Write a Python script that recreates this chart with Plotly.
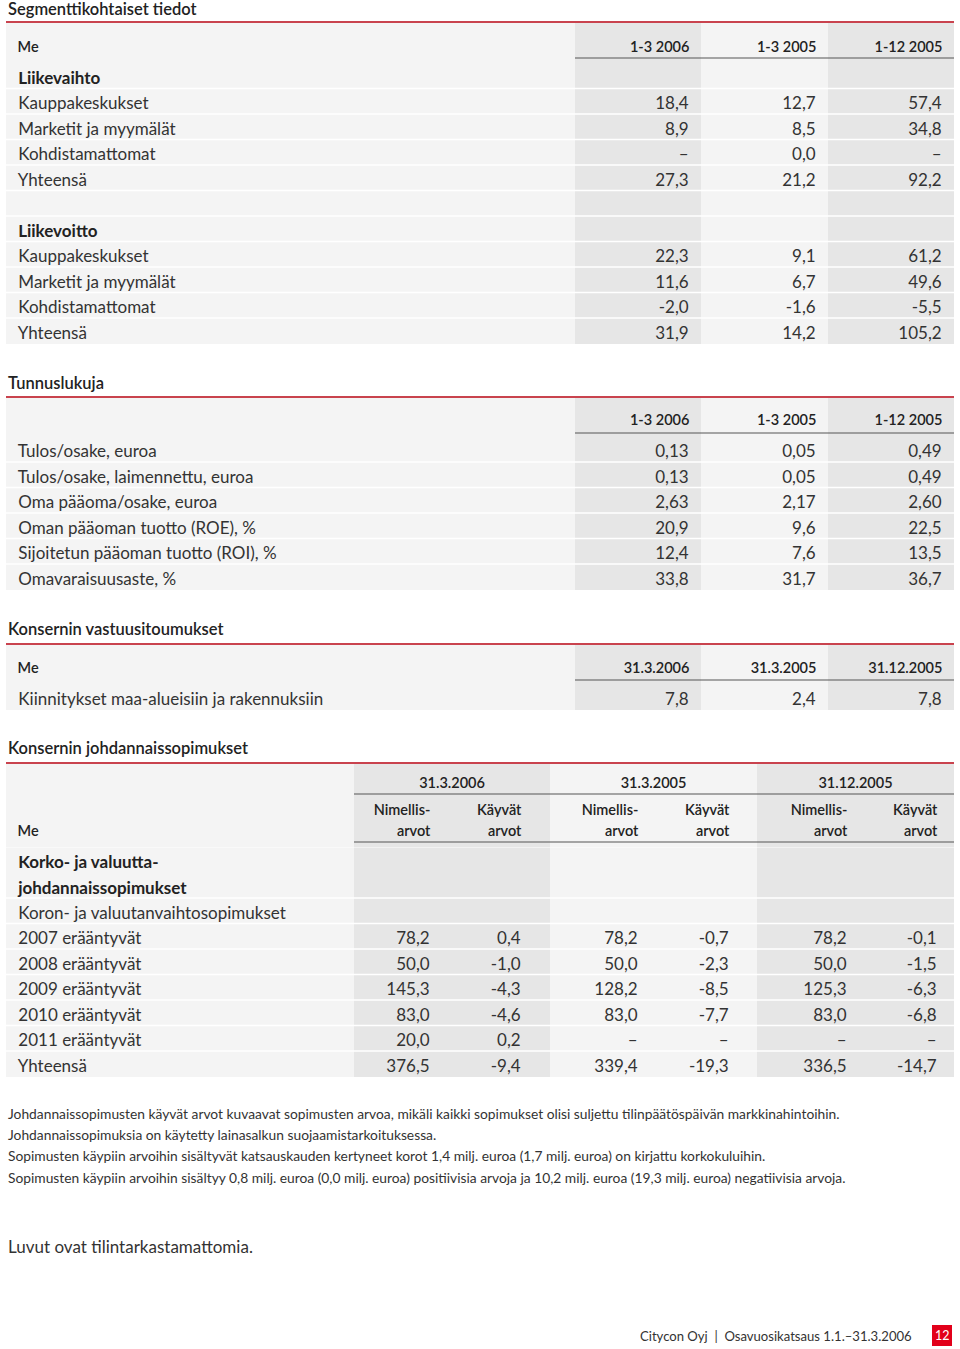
import plotly.graph_objects as go

# ---------------------------------------------------------------- data
seg_periods = ["1-3 2006", "1-3 2005", "1-12 2005"]
seg_groups = ["Liikevaihto", "Liikevoitto"]
seg_labels = [["Kauppakeskukset", "Marketit ja myymälät", "Kohdistamattomat", "Yhteensä", ""],
              ["Kauppakeskukset", "Marketit ja myymälät", "Kohdistamattomat", "Yhteensä"]]
seg_q1_2006 = [[18.4, 8.9, "-", 27.3, None], [22.3, 11.6, -2.0, 31.9]]
seg_q1_2005 = [[12.7, 8.5, 0.0, 21.2, None], [9.1, 6.7, -1.6, 14.2]]
seg_fy_2005 = [[57.4, 34.8, "-", 92.2, None], [61.2, 49.6, -5.5, 105.2]]

kf_labels = ["Tulos/osake, euroa", "Tulos/osake, laimennettu, euroa", "Oma pääoma/osake, euroa",
             "Oman pääoman tuotto (ROE), %", "Sijoitetun pääoman tuotto (ROI), %",
             "Omavaraisuusaste, %"]
kf_decimals = [2, 2, 2, 1, 1, 1]
kf_q1_2006 = [0.13, 0.13, 2.63, 20.9, 12.4, 33.8]
kf_q1_2005 = [0.05, 0.05, 2.17, 9.6, 7.6, 31.7]
kf_fy_2005 = [0.49, 0.49, 2.60, 22.5, 13.5, 36.7]

com_dates = ["31.3.2006", "31.3.2005", "31.12.2005"]
com_labels = ["Kiinnitykset maa-alueisiin ja rakennuksiin"]
com_values = [[7.8], [2.4], [7.8]]

der_dates = ["31.3.2006", "31.3.2005", "31.12.2005"]
der_subheads = [["Nimellis-", "arvot"], ["Käyvät", "arvot"]]
der_group = ["Korko- ja valuutta-", "johdannaissopimukset"]
der_labels = ["Koron- ja valuutanvaihtosopimukset", "2007 erääntyvät", "2008 erääntyvät",
              "2009 erääntyvät", "2010 erääntyvät", "2011 erääntyvät", "Yhteensä"]
der_nom_2006 = [None, 78.2, 50.0, 145.3, 83.0, 20.0, 376.5]
der_fair_2006 = [None, 0.4, -1.0, -4.3, -4.6, 0.2, -9.4]
der_nom_2005 = [None, 78.2, 50.0, 128.2, 83.0, "-", 339.4]
der_fair_2005 = [None, -0.7, -2.3, -8.5, -7.7, "-", -19.3]
der_nom_fy05 = [None, 78.2, 50.0, 125.3, 83.0, "-", 336.5]
der_fair_fy05 = [None, -0.1, -1.5, -6.3, -6.8, "-", -14.7]

notes = [
    "Johdannaissopimusten käyvät arvot kuvaavat sopimusten arvoa, mikäli kaikki sopimukset olisi suljettu tilinpäätöspäivän markkinahintoihin.",
    "Johdannaissopimuksia on käytetty lainasalkun suojaamistarkoituksessa.",
    "Sopimusten käypiin arvoihin sisältyvät katsauskauden kertyneet korot 1,4 milj. euroa (1,7 milj. euroa) on kirjattu korkokuluihin.",
    "Sopimusten käypiin arvoihin sisältyy 0,8 milj. euroa (0,0 milj. euroa) positiivisia arvoja ja 10,2 milj. euroa (19,3 milj. euroa) negatiivisia arvoja.",
]

# ---------------------------------------------------------------- style
W, H = 960, 1349
X0, X1 = 6, 954
FONT = "Lato"
TXT = "#333333"
HEAD = "#222222"
LIGHT = "#f4f4f4"
DARK = "#e6e6e6"
RED = "#c9434e"
RULE = "#555555"
NB = "\u00a0"
ROW = 25.5


def nb(s):
    return s.replace(" ", NB)


def fmt(v, dec=1):
    if v is None:
        return ""
    if isinstance(v, str):
        return "\u2013"
    return f"{v:.{dec}f}".replace(".", ",")


def px(x):
    return x / W


def py(y):
    return 1 - y / H


fig = go.Figure()
shapes = []
annotations = []


def hline(y, x0, x1, color, width):
    shapes.append(dict(type="line", xref="paper", yref="paper", x0=px(x0), x1=px(x1),
                       y0=py(y), y1=py(y), line=dict(color=color, width=width)))


def section(title, y_text, y_line):
    annotations.append(dict(text=title, x=px(X0), y=py(y_text), xref="paper", yref="paper",
                            xanchor="left", yanchor="middle", showarrow=False,
                            font=dict(family=FONT, size=16.5, color=HEAD, weight=600)))
    hline(y_line, X0, X1, RED, 2)


def table(top, header, header_h, columns, edges, fills, aligns, pad=0, head_align=None,
          head_font=None, sep_top=False, sep_head=True):
    """One go.Table trace; returns its bottom edge in page pixels."""
    widths = [b - a for a, b in zip(edges[:-1], edges[1:])]
    n_head = len(header[0]) if isinstance(header[0], list) else 1
    n_rows = len(columns[0])
    t = top + pad
    bottom = t + n_head * header_h + n_rows * ROW
    prefix = [NB if a == "left" else "" for a in aligns]
    suffix = [NB if a == "right" else "" for a in aligns]
    hf = head_font or dict(family=FONT, size=14.5, color=HEAD, weight=600)
    fig.add_trace(go.Table(
        domain=dict(x=[px(edges[0]), px(edges[-1])], y=[py(bottom + 1), py(t)]),
        columnwidth=widths,
        header=dict(values=header, fill_color=fills, line_width=0,
                    align=head_align or aligns, height=header_h, prefix=prefix,
                    suffix=suffix, font=hf),
        cells=dict(values=columns, fill_color=fills, line_width=0, align=aligns,
                   height=ROW, prefix=prefix, suffix=suffix,
                   font=dict(family=FONT, size=17, color=TXT)),
    ))
    if pad > 0:
        for a, b, f in zip(edges[:-1], edges[1:], fills):
            shapes.append(dict(type="rect", xref="paper", yref="paper", x0=px(a), x1=px(b),
                               y0=py(t), y1=py(top), fillcolor=f, line_width=0,
                               layer="below"))
    # white separators between rows
    seps = [t] if sep_top else []
    if n_rows and sep_head:
        seps.append(t + n_head * header_h)
    seps += [t + n_head * header_h + k * ROW for k in range(1, n_rows)]
    for y in seps:
        hline(y, edges[0], edges[-1], "white", 1.5)
    return bottom


three_edges = [X0, 575, 701, 828, X1]
three_fills = [LIGHT, DARK, LIGHT, DARK]
three_align = ["left", "right", "right", "right"]
group_font = dict(family=FONT, size=17, color=HEAD, weight=[700, 400, 400, 400])

# Segmenttikohtaiset tiedot
section("Segmenttikohtaiset tiedot", 9, 22)
y = table(23, ["Me"] + [nb(p) for p in seg_periods], 30, [[], [], [], []],
          three_edges, three_fills, three_align, pad=10)
hline(58, 575, X1, RULE, 1.2)
for i, g in enumerate(seg_groups):
    y = table(y, [nb(g), "", "", ""], ROW,
              [[nb(s) for s in seg_labels[i]], [fmt(v) for v in seg_q1_2006[i]],
               [fmt(v) for v in seg_q1_2005[i]], [fmt(v) for v in seg_fy_2005[i]]],
              three_edges, three_fills, three_align, head_font=group_font, sep_top=i > 0)

# Tunnuslukuja
section("Tunnuslukuja", 383, 397)
table(398, [""] + [nb(p) for p in seg_periods], 30.5,
      [[nb(s) for s in kf_labels],
       [fmt(v, d) for v, d in zip(kf_q1_2006, kf_decimals)],
       [fmt(v, d) for v, d in zip(kf_q1_2005, kf_decimals)],
       [fmt(v, d) for v, d in zip(kf_fy_2005, kf_decimals)]],
      three_edges, three_fills, three_align, pad=8, sep_head=False)
hline(433, 575, X1, RULE, 1.2)

# Konsernin vastuusitoumukset
section("Konsernin vastuusitoumukset", 629, 644)
table(645, ["Me"] + com_dates, 30.5,
      [[nb(s) for s in com_labels]] + [[fmt(v) for v in col] for col in com_values],
      three_edges, three_fills, three_align, pad=9, sep_head=False)
hline(680, 575, X1, RULE, 1.2)

# Konsernin johdannaissopimukset
section("Konsernin johdannaissopimukset", 748, 763)
pair_edges = [X0, 354, 550, 757, X1]
pair_fills = [LIGHT, DARK, LIGHT, DARK]
y = table(764, [""] + der_dates, 25, [[], [], [], []], pair_edges, pair_fills,
          ["left", "center", "center", "center"], pad=5)
hline(794, 354, X1, RULE, 1.2)

der_edges = [X0, 354, 442, 533, 550, 650, 741, 757, 859, 949, X1]
der_fills = [LIGHT, DARK, DARK, DARK, LIGHT, LIGHT, LIGHT, DARK, DARK, DARK]
der_align = ["left"] + ["right"] * 9
nom, fair = der_subheads
y = table(y, [["", "Me"], nom, fair, ["", ""], nom, fair, ["", ""], nom, fair, ["", ""]],
          21, [[]] * 10, der_edges, der_fills, der_align, pad=2)

blank = [""] * len(der_labels)
table(y, [[nb(s) for s in der_group]] + [["", ""]] * 9, 25.25,
      [[nb(s) for s in der_labels],
       [fmt(v) for v in der_nom_2006], [fmt(v) for v in der_fair_2006], blank,
       [fmt(v) for v in der_nom_2005], [fmt(v) for v in der_fair_2005], blank,
       [fmt(v) for v in der_nom_fy05], [fmt(v) for v in der_fair_fy05], blank],
      der_edges, der_fills, der_align, pad=9.5,
      head_font=dict(family=FONT, size=17, color=HEAD, weight=[700] + [400] * 9))
hline(842, 354, X1, RULE, 1.2)

# notes
for i, line in enumerate(notes):
    annotations.append(dict(text=line, x=px(X0), y=py(1113 + i * 21.4), xref="paper",
                            yref="paper", xanchor="left", yanchor="middle", showarrow=False,
                            font=dict(family=FONT, size=13.8, color=TXT)))
annotations.append(dict(text="Luvut ovat tilintarkastamattomia.", x=px(X0), y=py(1246),
                        xref="paper", yref="paper", xanchor="left", yanchor="middle",
                        showarrow=False, font=dict(family=FONT, size=17, color=TXT)))

# footer
annotations.append(dict(text="Citycon Oyj  |  Osavuosikatsaus 1.1.\u201331.3.2006", x=px(914),
                        y=py(1336), xref="paper", yref="paper", xanchor="right",
                        yanchor="middle", showarrow=False,
                        font=dict(family=FONT, size=13.1, color=TXT)))
shapes.append(dict(type="rect", xref="paper", yref="paper", x0=px(932), x1=px(952),
                   y0=py(1346), y1=py(1325), fillcolor="#e2001a", line_width=0))
annotations.append(dict(text="12", x=px(942), y=py(1335.5), xref="paper", yref="paper",
                        xanchor="center", yanchor="middle", showarrow=False,
                        font=dict(family=FONT, size=12.5, color="white")))

fig.update_layout(width=W, height=H, margin=dict(l=0, r=0, t=0, b=0),
                  paper_bgcolor="white", plot_bgcolor="white",
                  shapes=shapes, annotations=annotations, showlegend=False)

fig.write_html("out.html", config={"displayModeBar": False},
               post_script="document.body.style.margin = '0';")
